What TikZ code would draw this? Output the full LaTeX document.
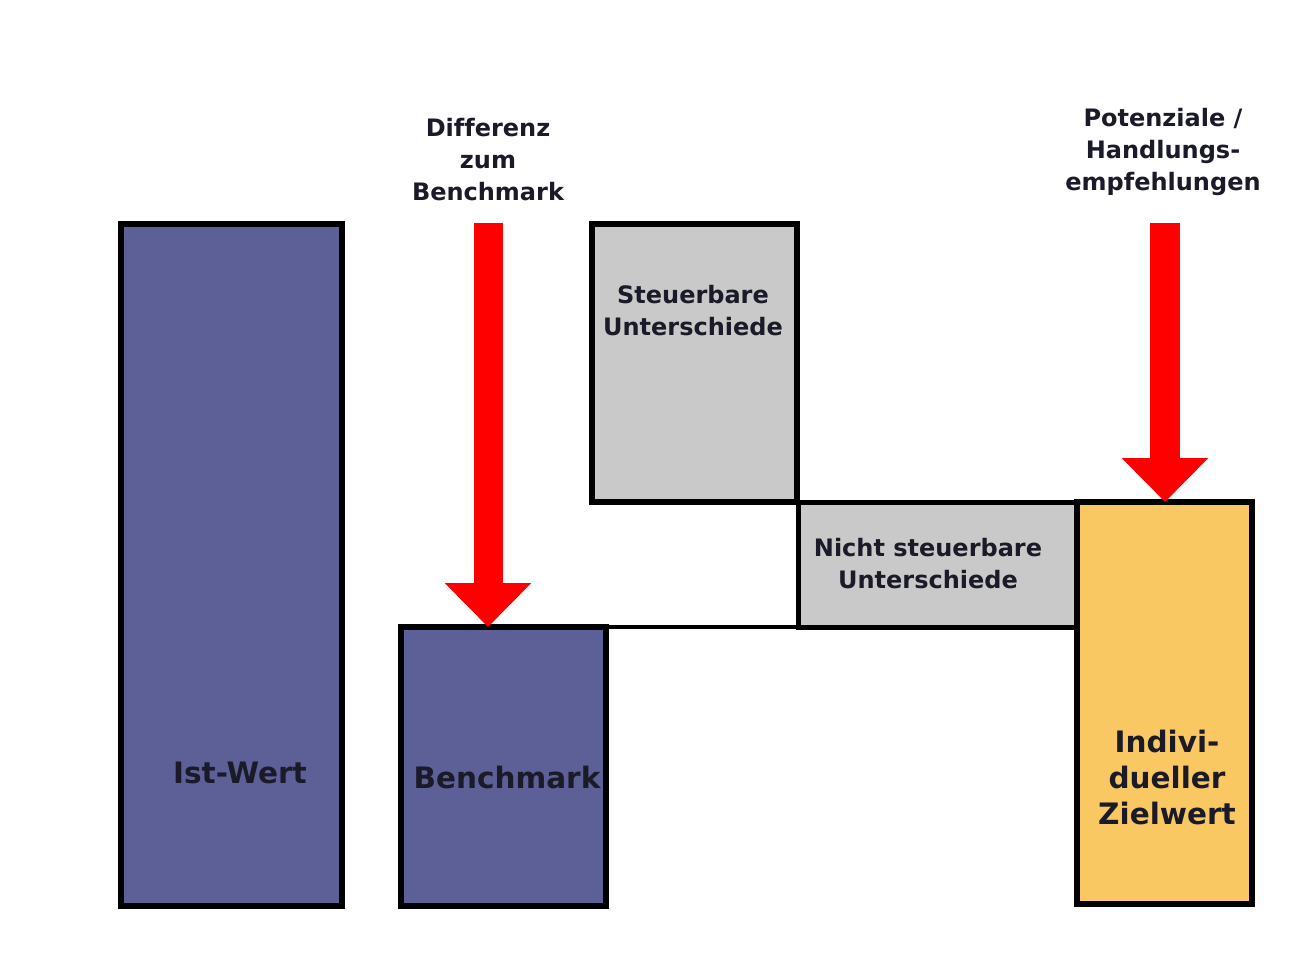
\documentclass[tikz,border=0pt]{standalone}
\usepackage{fontspec}
\setmainfont[Ligatures=NoCommon]{DejaVu Sans}
\usetikzlibrary{arrows.meta}
\definecolor{boxblue}{HTML}{5C6096}
\definecolor{boxgray}{HTML}{C9C9C9}
\definecolor{boxyellow}{HTML}{FAC862}
\definecolor{txt}{HTML}{1A1A28}
\begin{document}
\begin{tikzpicture}[x=1pt,y=-1pt,
  bar/.style={draw=black,line width=6pt,inner sep=0pt,outer sep=0pt,rectangle},
  lbl/.style={font=\bfseries\fontsize{24}{32}\selectfont,text=txt,align=center,inner sep=0pt},
  biglbl/.style={font=\bfseries\fontsize{29.5}{36}\selectfont,text=txt,align=center,inner sep=0pt},
  redarrow/.style={draw=red,line width=29pt,
    -{Triangle[width=84pt,length=44pt]}}]
\useasboundingbox (0,0) rectangle (1299,959);
% boxes
\node[bar,fill=boxblue,minimum width=221pt,minimum height=682pt] (ist) at (231.5,565) {};
\node[bar,fill=boxblue,minimum width=205pt,minimum height=279pt] (bench) at (503.5,766.5) {};
\node[bar,fill=boxgray,minimum width=205pt,minimum height=278pt] (steu) at (694,363) {};
\node[bar,fill=boxgray,line width=5pt,minimum width=278pt,minimum height=125pt] (nicht) at (937,564.5) {};
\node[bar,fill=boxyellow,minimum width=175pt,minimum height=402pt] (ziel) at (1164,703) {};
% connecting line
\draw[line width=4pt] (bench.north east) -- (nicht.south west);
% labels inside
\node[biglbl] (istl) at (240,773) {Ist-Wert};
\node[biglbl] (benchl) at (507,777) {Benchmark};
\node[lbl] (steul) at (693,311) {Steuerbare\\Unterschiede};
\node[lbl] (nichtl) at (928,564) {Nicht steuerbare\\Unterschiede};
\node[biglbl] (ziell) at (1167,777) {Indivi-\\dueller\\Zielwert};
% top labels
\node[lbl] (diff) at (488,160) {Differenz\\zum\\Benchmark};
\node[lbl] (pot) at (1163,152) {Potenziale /\\Handlungs-\\empfehlungen};
% arrows
\coordinate (a1) at (488,223);
\coordinate (a2) at (1165,223);
\draw[redarrow] (a1) -- (bench.north -| a1);
\draw[redarrow,line width=30pt] (a2) -- (ziel.north -| a2);
\end{tikzpicture}
\end{document}
